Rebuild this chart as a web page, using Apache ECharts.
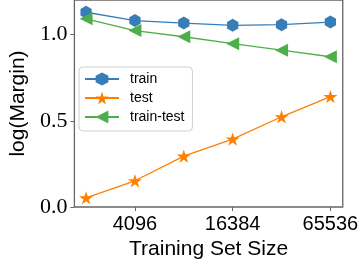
<!DOCTYPE html>
<html>
<head>
<meta charset="utf-8">
<script src="https://cdn.jsdelivr.net/npm/echarts@6/dist/echarts.min.js"></script>
<style>
  html, body { margin: 0; padding: 0; background: #fff; }
  #main { width: 361px; height: 267px; }
</style>
</head>
<body>
<div id="main"></div>
<script>
// training set sizes (x, log2 scale) and the three curves
var sizes = [2048, 4096, 8192, 16384, 32768, 65536];
var train = [1.129, 1.081, 1.066, 1.053, 1.057, 1.072];
var test = [0.053, 0.152, 0.295, 0.394, 0.523, 0.640];
var trainTest = [1.091, 1.023, 0.987, 0.947, 0.909, 0.871];
var xTickLabels = ['4096', '16384', '65536'];
var yTickLabels = ['0.0', '0.5', '1.0'];

var hexagon = 'path://M0,-1L0.866,-0.5L0.866,0.5L0,1L-0.866,0.5L-0.866,-0.5Z';
var star = 'path://M0,-1L0.2245,-0.309L0.951,-0.309L0.363,0.118L0.588,0.809L0,0.382L-0.588,0.809L-0.363,0.118L-0.951,-0.309L-0.2245,-0.309Z';
var triLeft = 'path://M-1,0L1,-1L1,1Z';

function pairs(vals) {
    return sizes.map(function (s, i) { return [Math.log2(s), vals[i]]; });
}

var xTicks = xTickLabels.map(function (t) { return Math.log2(Number(t)); });
var yTicks = yTickLabels.map(Number);
var sans = 'Liberation Sans';

var option = {
    animation: false,
    backgroundColor: '#fff',
    grid: {
        left: 70, right: 15, top: -5, bottom: 60,
        show: true, borderColor: '#666', borderWidth: 1.3,
        backgroundColor: 'transparent'
    },
    legend: {
        orient: 'vertical', left: 79, top: 67,
        padding: [5, 8, 7, 5], itemGap: 5,
        itemWidth: 34, itemHeight: 16,
        backgroundColor: 'rgba(255,255,255,0.8)',
        borderColor: '#d0d0d0', borderWidth: 1, borderRadius: 4,
        textStyle: { fontFamily: sans, fontSize: 14, color: '#000', padding: [0, 0, 0, 6] },
        data: ['train', 'test', 'train-test']
    },
    xAxis: {
        type: 'value',
        min: 10.761, max: 16.253,
        name: 'Training Set Size', nameLocation: 'middle', nameGap: 26,
        nameTextStyle: { fontFamily: sans, fontSize: 21, color: '#000' },
        axisLine: { show: false },
        axisTick: { show: true, length: 4, customValues: xTicks, lineStyle: { color: '#666' } },
        axisLabel: {
            customValues: xTicks, margin: 7,
            fontFamily: sans, fontSize: 20, color: '#000',
            formatter: function (v) { return String(Math.round(Math.pow(2, v))); }
        },
        splitLine: { show: false }
    },
    yAxis: {
        type: 'value',
        min: 0, max: 1.2,
        name: 'log(Margin)', nameLocation: 'middle', nameGap: 37,
        nameTextStyle: { fontFamily: sans, fontSize: 21, color: '#000' },
        axisLine: { show: false },
        axisTick: { show: true, length: 4, customValues: yTicks, lineStyle: { color: '#666' } },
        axisLabel: {
            customValues: yTicks, margin: 7,
            fontFamily: 'Liberation Serif', fontSize: 22, color: '#000',
            formatter: function (v) { return v.toFixed(1); }
        },
        splitLine: { show: false }
    },
    series: [
        {
            name: 'train', type: 'line', data: pairs(train),
            symbol: hexagon, symbolSize: 13, symbolKeepAspect: true,
            lineStyle: { color: '#377eb8', width: 1.3 },
            itemStyle: { color: '#377eb8' }
        },
        {
            name: 'test', type: 'line', data: pairs(test),
            symbol: star, symbolSize: 14, symbolKeepAspect: true,
            lineStyle: { color: '#ff7f00', width: 1.3 },
            itemStyle: { color: '#ff7f00' }
        },
        {
            name: 'train-test', type: 'line', data: pairs(trainTest),
            symbol: triLeft, symbolSize: 13, symbolKeepAspect: true,
            lineStyle: { color: '#4daf4a', width: 1.3 },
            itemStyle: { color: '#4daf4a' }
        }
    ]
};

var myChart = echarts.init(document.getElementById('main'));
myChart.setOption(option);
</script>
</body>
</html>
